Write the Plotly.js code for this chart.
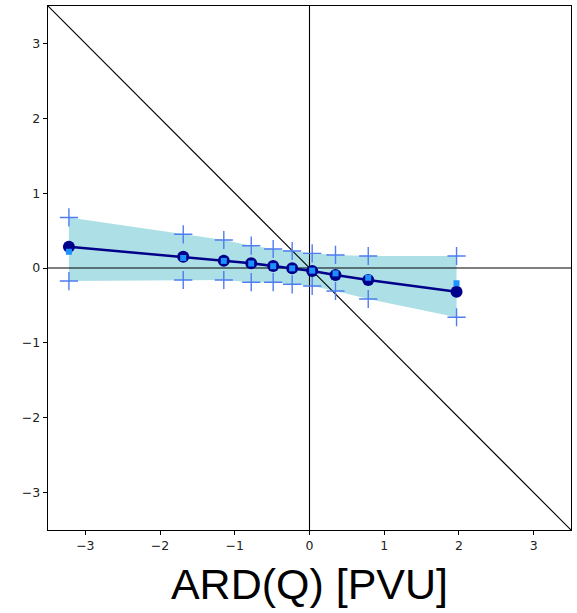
<!DOCTYPE html>
<html>
<head>
<meta charset="utf-8">
<script src="https://cdn.plot.ly/plotly-3.0.1.min.js"></script>
<style>html,body{margin:0;padding:0;background:#fff;}#chart{width:577px;height:613px;}</style>
</head>
<body>
<div id="chart"></div>
<script>
// Bin centres (x) and statistics
var binX     = [-3.22, -1.69, -1.147, -0.78, -0.486, -0.232, 0.036, 0.348, 0.786, 1.968];
var meanY    = [0.284, 0.150, 0.097, 0.063, 0.027, -0.004, -0.040, -0.093, -0.160, -0.316];
var medianY  = [0.217, 0.134, 0.095, 0.060, 0.025, -0.005, -0.035, -0.072, -0.130, -0.204];
var upperY   = [0.675, 0.450, 0.374, 0.298, 0.254, 0.227, 0.196, 0.174, 0.160, 0.160];
var lowerY   = [-0.174, -0.160, -0.160, -0.190, -0.190, -0.218, -0.240, -0.307, -0.414, -0.658];
var diagX    = [-3.5, 3.5];
var diagY    = [3.5, -3.5];
var hLineX   = [-3.5, 3.5];
var hLineY   = [0, 0];
var vLineX   = [0, 0];
var vLineY   = [-3.5, 3.5];
var axisRange = [-3.5, 3.5];
var tickVals = [-3, -2, -1, 0, 1, 2, 3];
var tickText = ['\u22123', '\u22122', '\u22121', '0', '1', '2', '3'];

var traces = [
  {x: binX, y: lowerY, mode: 'lines', line: {width: 0, color: 'rgba(0,0,0,0)'}, hoverinfo: 'skip', showlegend: false},
  {x: binX, y: upperY, mode: 'lines', fill: 'tonexty', fillcolor: '#ade0e6', line: {width: 0, color: 'rgba(0,0,0,0)'}, hoverinfo: 'skip', showlegend: false},
  {x: hLineX, y: hLineY, mode: 'lines', line: {color: '#000', width: 1.1}, showlegend: false},
  {x: vLineX, y: vLineY, mode: 'lines', line: {color: '#000', width: 1.1}, showlegend: false},
  {x: diagX, y: diagY, mode: 'lines', line: {color: '#000', width: 1.1}, showlegend: false},
  {x: binX, y: upperY, mode: 'markers', marker: {symbol: 'cross-thin', size: 13, line: {color: '#4f7cf0', width: 1.4}}, showlegend: false},
  {x: binX, y: lowerY, mode: 'markers', marker: {symbol: 'cross-thin', size: 13, line: {color: '#4f7cf0', width: 1.4}}, showlegend: false},
  {x: binX, y: meanY, mode: 'lines+markers', line: {color: '#00008b', width: 2.5}, marker: {symbol: 'circle', size: 12, color: '#00008b'}, showlegend: false},
  {x: binX, y: medianY, mode: 'markers', marker: {symbol: 'square', size: 6, color: '#1e90ff'}, showlegend: false}
];

var axisCommon = {
  range: axisRange, tickvals: tickVals, ticktext: tickText,
  showgrid: false, zeroline: false,
  showline: true, linecolor: '#000', linewidth: 1.2, mirror: true,
  ticks: 'outside', ticklen: 4, tickwidth: 1, tickcolor: '#000',
  tickfont: {family: 'DejaVu Sans', size: 12.5, color: '#222'}
};

var layout = {
  width: 577, height: 613,
  margin: {l: 48, r: 6, t: 6, b: 83},
  paper_bgcolor: '#fff', plot_bgcolor: '#fff',
  showlegend: false,
  xaxis: Object.assign({}, axisCommon, {
    title: {text: 'ARD(Q) [PVU]', font: {family: 'Liberation Sans', size: 43, color: '#000'}, standoff: 16}
  }),
  yaxis: Object.assign({}, axisCommon)
};

Plotly.newPlot('chart', traces, layout, {displayModeBar: false, staticPlot: true});
</script>
</body>
</html>
